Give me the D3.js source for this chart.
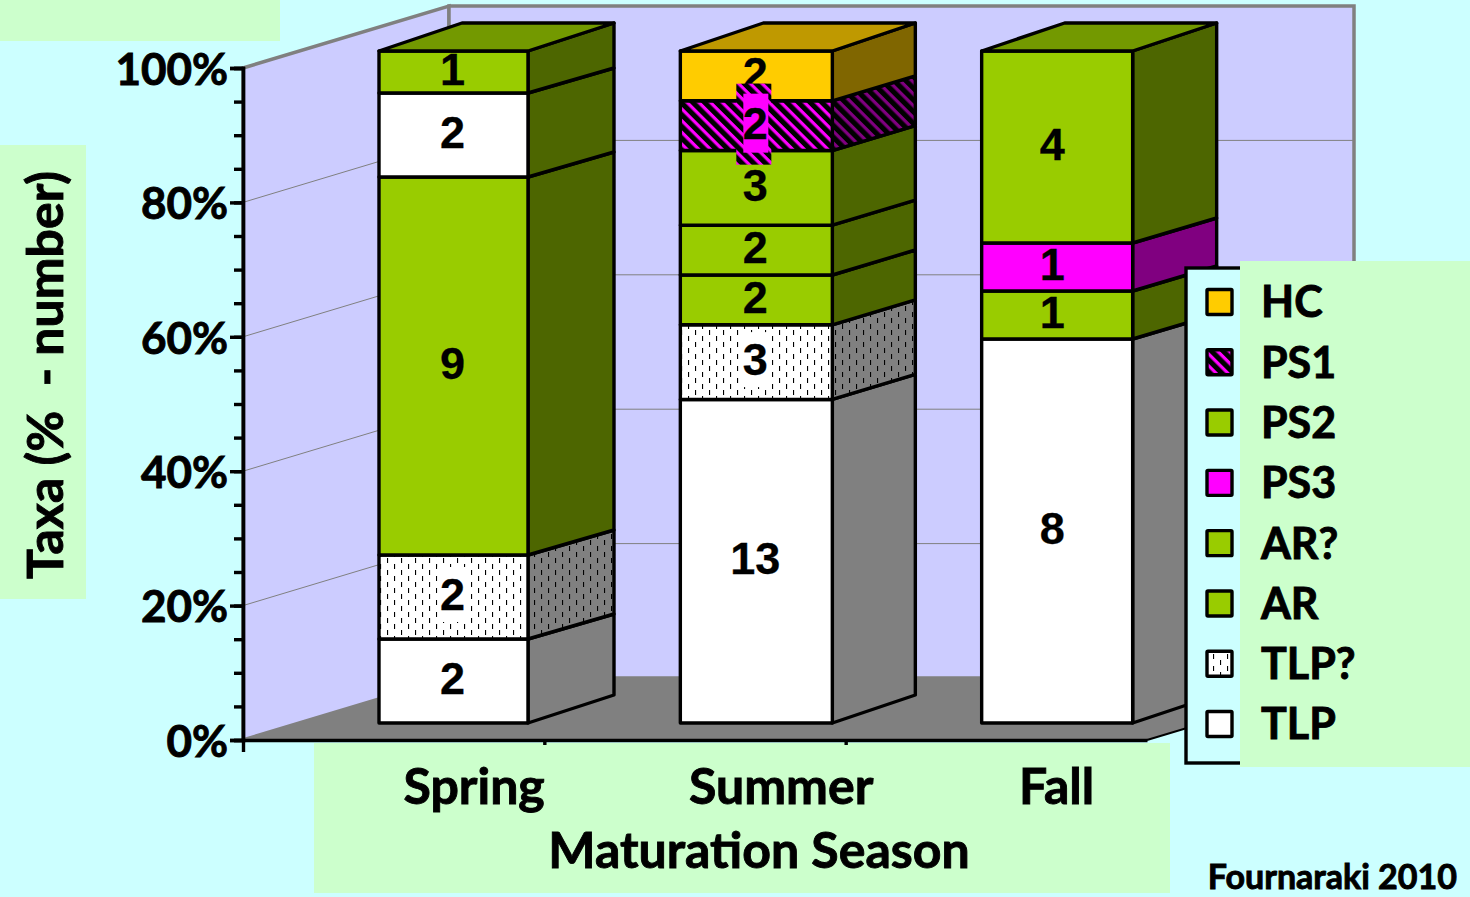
<!DOCTYPE html>
<html>
<head>
  <meta charset="utf-8">
  <title>Taxa by maturation season</title>
  <script src="https://d3js.org/d3.v7.min.js"></script>
  <style>
    body { margin: 0; background: #CCFFFF; overflow: hidden; }
    text { font-family: Lato, "Open Sans", sans-serif; font-weight: 700; fill: #000; stroke: #000; stroke-width: 0.9px; }
    .value { font-family: "Liberation Sans", Arial, sans-serif; font-size: 45px; text-anchor: middle; stroke-width: 0.3px; }
  </style>
</head>
<body>
<svg id="chart" width="1470" height="897"></svg>
<script>
  var seasons = ["Spring", "Summer", "Fall"]
  var seriesNames = ["TLP", "TLP?", "AR", "AR?", "PS3", "PS2", "PS1", "HC"]
  var tlp = [2, 13, 8]
  var tlpMaybe = [2, 3, 0]
  var ar = [9, 2, 1]
  var arMaybe = [2, 2, 0]
  var ps3 = [0, 0, 1]
  var ps2 = [1, 3, 4]
  var ps1 = [0, 2, 0]
  var hc = [0, 2, 0]
  var seriesValues = [tlp, tlpMaybe, ar, arMaybe, ps3, ps2, ps1, hc]

  var rows = seasons.map(function (s, i) {
    var r = { season: s }
    seriesNames.forEach(function (n, k) { r[n] = seriesValues[k][i] })
    return r
  })
  var stacked = d3.stack().keys(seriesNames).offset(d3.stackOffsetExpand)(rows)

  var svg = d3.select("#chart")
  var defs = svg.append("defs")

  // layout of the fake 3d box
  var wallDx = 206, wallDy = -62
  var frontDx = 136, frontDy = -17
  var barDx = 83, barDy = -28, innerDy = -25
  var barBack = 152
  var frontWidth = [149, 152, 151]
  var labelNudge = [0, 0, -4]

  var y = d3.scaleLinear().domain([0, 1]).range([740, 68])
  var x = d3.scaleLinear().domain([0, 3]).range([243, 1147])
  var x0 = x(0), xEnd = x(3)

  // the reference's inner band edges rise a bit less than the bar's top and base
  // (stack sums can land just under 1, hence the tolerance)
  function sideDy(v) {
    return (v <= 0.001 || v >= 0.999) ? barDy : innerDy
  }

  // colours: front, side, top
  var green = ["#99CC00", "#4D6600", "#739900"]
  var white = ["#FFFFFF", "#808080", "#BFBFBF"]
  var colours = {
    "TLP": white,
    "TLP?": ["url(#dots)", "url(#dotsSide)", "#BFBFBF"],
    "AR": green,
    "AR?": green,
    "PS3": ["#FF00FF", "#800080", "#BF00BF"],
    "PS2": green,
    "PS1": ["url(#hatch)", "url(#hatchSide)", "#BF00BF"],
    "HC": ["#FFCC00", "#806600", "#BF9900"]
  }

  function hatch(id, col) {
    var p = defs.append("pattern").attr("id", id).attr("patternUnits", "userSpaceOnUse")
      .attr("width", 8.3).attr("height", 8.3).attr("patternTransform", "rotate(45)")
    p.append("rect").attr("width", 8.3).attr("height", 8.3).attr("fill", "#000")
    p.append("rect").attr("width", 8.3).attr("height", 3.2).attr("fill", col)
  }
  function dots(id, col) {
    var p = defs.append("pattern").attr("id", id).attr("patternUnits", "userSpaceOnUse")
      .attr("width", 14).attr("height", 12)
    p.append("rect").attr("width", 14).attr("height", 12).attr("fill", col)
    ;[[2, 0], [9, 6]].forEach(function (d) {
      p.append("rect").attr("x", d[0]).attr("y", d[1]).attr("width", 1.1).attr("height", 5).attr("fill", "#000")
    })
  }
  hatch("hatch", "#FF00FF")
  hatch("hatchSide", "#800080")
  dots("dots", "#FFFFFF")
  dots("dotsSide", "#808080")

  // label panels behind the text
  var panels = svg.append("g").attr("fill", "#CCFFCC")
  panels.append("rect").attr("x", 0).attr("y", 0).attr("width", 280).attr("height", 41)
  panels.append("rect").attr("x", 0).attr("y", 145).attr("width", 86).attr("height", 454)
  panels.append("rect").attr("x", 314).attr("y", 743).attr("width", 856).attr("height", 150)

  function poly(g, pts) {
    return g.append("polygon").attr("points", pts.map(function (p) { return p.join(",") }).join(" "))
  }

  // walls and floor
  var wallRight = xEnd + wallDx + 1
  var walls = svg.append("g")
  poly(walls, [[x0, y(1)], [x0 + wallDx, y(1) + wallDy], [x0 + wallDx, y(0) + wallDy], [x0, y(0)]])
    .attr("fill", "#CCCCFF").attr("stroke", "#808080").attr("stroke-width", 3.5)
  poly(walls, [[x0 + wallDx, y(1) + wallDy], [wallRight, y(1) + wallDy], [wallRight, y(0) + wallDy], [x0 + wallDx, y(0) + wallDy]])
    .attr("fill", "#CCCCFF").attr("stroke", "#808080").attr("stroke-width", 3.5)
  poly(walls, [[x0, y(0)], [x0 + wallDx, y(0) + wallDy], [wallRight, y(0) + wallDy], [xEnd, y(0)]])
    .attr("fill", "#808080")
  walls.append("line").attr("x1", xEnd).attr("y1", y(0)).attr("x2", wallRight).attr("y2", y(0) + wallDy)
    .attr("stroke", "#000").attr("stroke-width", 2)

  // grid lines, side wall then back wall
  var gridVals = [0.2, 0.4, 0.6, 0.8]
  var grid = svg.append("g").attr("stroke", "#808080").attr("stroke-width", 1).attr("fill", "none")
  grid.selectAll("polyline").data(gridVals).join("polyline")
    .attr("points", function (d) {
      return [[x0, y(d)], [x0 + wallDx, y(d) + wallDy], [wallRight, y(d) + wallDy]].map(function (p) { return p.join(",") }).join(" ")
    })

  // bars
  var bars = svg.append("g").attr("stroke", "#000").attr("stroke-width", 3.4).attr("stroke-linejoin", "round")
  var labels = []
  seasons.forEach(function (season, i) {
    var left = x(i) + frontDx
    var right = left + frontWidth[i]
    var backLeft = left + barDx
    var backRight = backLeft + barBack
    var topCol = null
    stacked.forEach(function (layer) {
      var d = layer[i]
      if (seriesValues[layer.index][i] === 0) return
      var yLow = y(d[0]) + frontDy, yHigh = y(d[1]) + frontDy
      var cols = colours[layer.key]
      poly(bars, [[right, yLow], [backRight, yLow + sideDy(d[0])], [backRight, yHigh + sideDy(d[1])], [right, yHigh]]).attr("fill", cols[1])
      // Spring AR? has a white front in the original, side stays green
      var front = (season === "Spring" && layer.key === "AR?") ? "#FFFFFF" : cols[0]
      bars.append("rect").attr("x", left).attr("y", yHigh).attr("width", right - left).attr("height", yLow - yHigh).attr("fill", front)
      topCol = cols[2]
      labels.push({ x: left + frontWidth[i] / 2 - 1 + labelNudge[i], y: (yLow + yHigh) / 2 - 3, v: seriesValues[layer.index][i], key: layer.key })
    })
    var yTop = y(1) + frontDy
    poly(bars, [[left, yTop], [right, yTop], [backRight, yTop + barDy], [backLeft, yTop + barDy]]).attr("fill", topCol)
  })

  // value labels, drawn top down so the PS1 box sits over the HC number
  var valueG = svg.append("g")
  labels.reverse().forEach(function (d) {
    if (d.key === "TLP?") {
      valueG.append("rect").attr("x", d.x - 15).attr("y", d.y - 27).attr("width", 30).attr("height", 55).attr("fill", "#FFFFFF")
    }
    if (d.key === "PS1") {
      valueG.append("rect").attr("x", d.x - 19).attr("y", d.y - 39).attr("width", 35).attr("height", 81).attr("fill", "url(#hatch)")
      valueG.append("rect").attr("x", d.x - 12).attr("y", d.y - 29).attr("width", 25).attr("height", 59).attr("fill", "#FF00FF")
    }
    valueG.append("text").attr("class", "value").attr("x", d.x).attr("y", d.y).attr("dy", "0.36em").text(d.v)
  })

  // axes
  var axisG = svg.append("g").attr("transform", "translate(" + x0 + ",0)")
  var minor = d3.axisLeft(y).tickValues(d3.range(21).map(function (k) { return k / 20 })).tickSize(9).tickFormat("")
  var major = d3.axisLeft(y).tickValues(d3.range(6).map(function (k) { return k / 5 })).tickSize(13).tickPadding(2).tickFormat(d3.format(".0%"))
  axisG.call(minor)
  axisG.append("g").call(major)
  axisG.selectAll("path, line").attr("stroke", "#000").attr("stroke-width", 3.4)
  axisG.selectAll("text").attr("font-size", 44).attr("font-family", "Lato").attr("font-weight", 700).attr("fill", "#000").attr("dy", "0.37em")

  var axisB = svg.append("g").attr("transform", "translate(0," + y(0) + ")")
    .call(d3.axisBottom(x).tickValues([0, 1, 2]).tickSize(5).tickFormat("").tickSizeOuter(0))
  axisB.selectAll("path, line").attr("stroke", "#000").attr("stroke-width", 3.4)
  axisB.select("line").attr("y2", 12)

  var seasonPos = [0.767, 1.786, 2.7]
  svg.append("g").selectAll("text").data(seasons).join("text")
    .attr("x", function (d, i) { return x(seasonPos[i]) })
    .attr("y", 804).attr("text-anchor", "middle").attr("font-size", 50).text(function (d) { return d })

  svg.append("text").attr("x", 759).attr("y", 868).attr("text-anchor", "middle").attr("font-size", 50).text("Maturation Season")
  svg.append("text").attr("transform", "translate(63,375) rotate(-90)").attr("text-anchor", "middle")
    .attr("font-size", 50).attr("xml:space", "preserve").text("Taxa (%  - number)")
  svg.append("text").attr("x", 1457).attr("y", 889).attr("text-anchor", "end").attr("font-size", 34).text("Fournaraki 2010")

  // legend
  var legendNames = seriesNames.slice().reverse()
  var legendRow = d3.scalePoint().domain(legendNames).range([302, 724])
  var legend = svg.append("g")
  legend.append("rect").attr("x", 1186).attr("y", 268).attr("width", 300).attr("height", 495)
    .attr("fill", "#CCFFFF").attr("stroke", "#000").attr("stroke-width", 3.4)
  legend.append("rect").attr("x", 1240).attr("y", 261).attr("width", 230).attr("height", 506).attr("fill", "#CCFFCC")
  legend.selectAll("rect.key").data(legendNames).join("rect").attr("class", "key")
    .attr("x", 1207).attr("y", function (d) { return legendRow(d) - 12.5 }).attr("width", 25).attr("height", 25).attr("rx", 1)
    .attr("fill", function (d) { return colours[d][0] }).attr("stroke", "#000").attr("stroke-width", 3.4)
  legend.selectAll("text").data(legendNames).join("text")
    .attr("x", 1261).attr("y", function (d) { return legendRow(d) }).attr("dy", "0.36em")
    .attr("font-size", 43).text(function (d) { return d })
</script>
</body>
</html>
